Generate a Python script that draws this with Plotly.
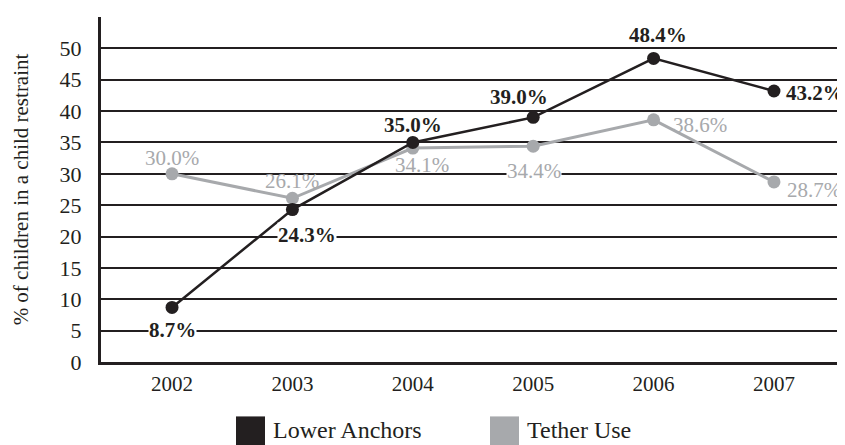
import plotly.graph_objects as go

years = ["2002", "2003", "2004", "2005", "2006", "2007"]
lower_anchors = [8.7, 24.3, 35.0, 39.0, 48.4, 43.2]
tether_use = [30.0, 26.1, 34.1, 34.4, 38.6, 28.7]
y_ticks = [0, 5, 10, 15, 20, 25, 30, 35, 40, 45, 50]

BLACK = "#231f20"
GRAY = "#a7a9ac"
FONT = "Liberation Serif, Times New Roman, serif"

# label placement per point: (xshift, yshift, xanchor, white background)
la_pos = [(0, -23, "center", True), (15, -25, "center", True), (0, 17, "center", False),
          (-14, 20, "center", False), (4, 23, "center", False), (11, -2, "left", False)]
tu_pos = [(0, 16, "center", False), (0, 17, "center", False), (9, -17, "center", False),
          (1, -25, "center", True), (18, -5, "left", False), (12, -8, "left", False)]

fig = go.Figure()
fig.add_trace(go.Scatter(x=years, y=tether_use, mode="lines+markers", name="Tether Use",
                         line=dict(color=GRAY, width=3),
                         marker=dict(color=GRAY, size=13), showlegend=False))
fig.add_trace(go.Scatter(x=years, y=lower_anchors, mode="lines+markers", name="Lower Anchors",
                         line=dict(color=BLACK, width=2.5),
                         marker=dict(color=BLACK, size=13), showlegend=False))

annotations = []
for vals, pos, col, bold in [(lower_anchors, la_pos, BLACK, True), (tether_use, tu_pos, GRAY, False)]:
    for i, (v, (dx, dy, anc, bg)) in enumerate(zip(vals, pos)):
        txt = f"{v:.1f}%"
        # category index as x so "2002" is not read as a serial number
        annotations.append(dict(x=i, y=v, xref="x", yref="y", text=f"<b>{txt}</b>" if bold else txt,
                                showarrow=False, xshift=dx, yshift=dy, xanchor=anc,
                                font=dict(family=FONT, size=21, color=col),
                                bgcolor="white" if bg else "rgba(0,0,0,0)", borderpad=0))

# legend drawn by hand so the swatches can be large squares
# (page body has an 8px margin, so figure coords = screen coords - 8)
L, W, B, H = 93, 744, 354.5, 345.5
legend_items = [("Lower Anchors", BLACK, 228), ("Tether Use", GRAY, 482)]
shapes = []
for name, col, px in legend_items:
    shapes.append(dict(type="rect", xref="paper", yref="paper",
                       x0=(px - L) / W, x1=(px + 29 - L) / W,
                       y0=(B - 440) / H, y1=(B - 409) / H,
                       fillcolor=col, line=dict(width=0)))
    annotations.append(dict(x=(px + 35 - L) / W, y=(B - 423) / H, xref="paper", yref="paper",
                            text=name, showarrow=False, xanchor="left", yanchor="middle",
                            font=dict(family=FONT, size=24, color=BLACK)))

fig.update_layout(
    width=837, height=437,
    margin=dict(l=93, r=0, t=9, b=82.5),
    paper_bgcolor="white", plot_bgcolor="white",
    font=dict(family=FONT, color=BLACK),
    annotations=annotations, shapes=shapes,
    xaxis=dict(type="category", range=[-0.59, 5.59], showgrid=False,
               showline=True, linecolor=BLACK, linewidth=3, ticks="",
               tickfont=dict(family=FONT, size=21, color=BLACK), ticklabelstandoff=1),
    yaxis=dict(range=[0, 55], tickvals=y_ticks, showgrid=True, gridcolor=BLACK, gridwidth=1.5,
               zeroline=False, showline=True, linecolor=BLACK, linewidth=3, ticks="",
               tickfont=dict(family=FONT, size=22, color=BLACK), ticklabelstandoff=12,
               title=dict(text="% of children in a child restraint",
                          font=dict(family=FONT, size=21, color=BLACK), standoff=26)),
)

fig.write_html("out.html")
